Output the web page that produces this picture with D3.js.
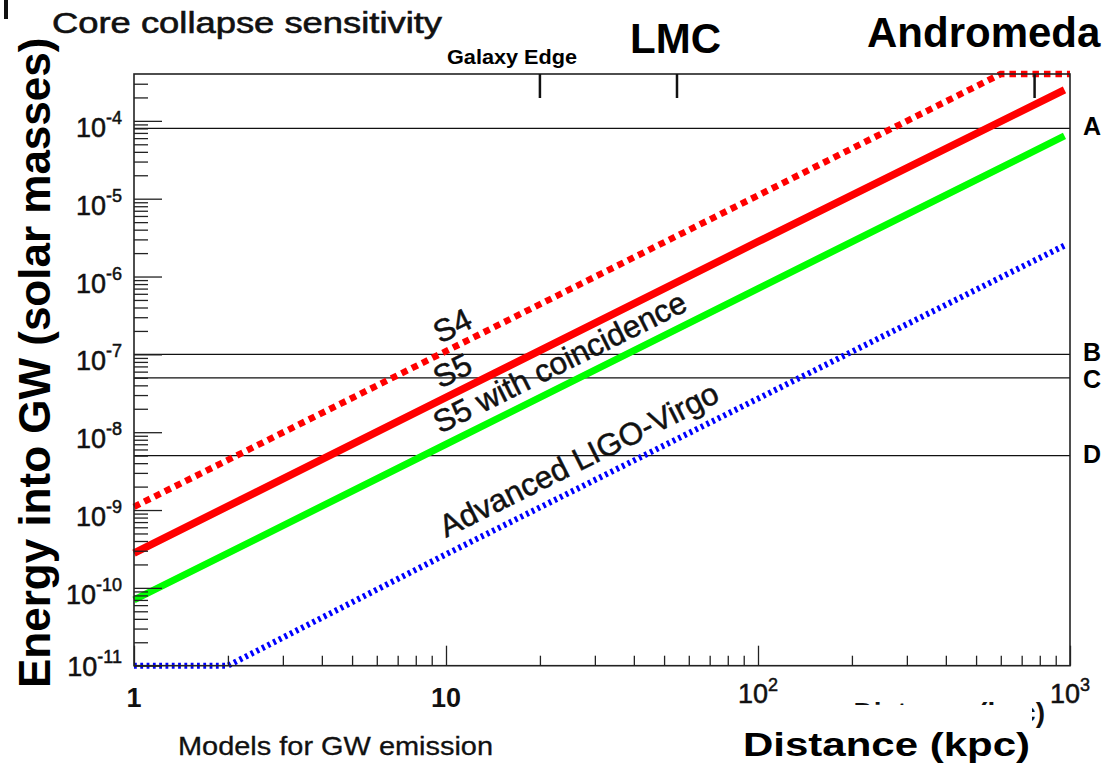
<!DOCTYPE html>
<html><head><meta charset="utf-8">
<script src="https://cdn.jsdelivr.net/npm/d3@7"></script>
<style>
body{margin:0;background:#fff;}
svg{display:block;font-family:"Liberation Sans",Arial,Helvetica,sans-serif;}
</style>
</head><body>
<svg id="c" width="1113" height="763"></svg>
<script>
// ---------------- data ----------------
const seriesNames = ["S4", "S5", "S5 with coincidence", "Advanced LIGO-Virgo"];
const s4Distance = [1, 10, 100, 600, 1000];
const s4Energy   = [1.1e-9, 1.1e-7, 1.1e-5, 4.0e-4, 4.0e-4];
const s5Distance = [1, 10, 100, 960];
const s5Energy   = [2.8e-10, 2.8e-8, 2.8e-6, 2.5e-4];
const s5CoincDistance = [1, 10, 100, 960];
const s5CoincEnergy   = [7.0e-11, 7.0e-9, 7.0e-7, 6.4e-5];
const advDistance = [1, 2, 10, 100, 960];
const advEnergy   = [1e-11, 1e-11, 2.7e-10, 2.7e-8, 2.5e-6];

const modelLabels = ["A", "B", "C", "D"];
const modelEnergy = [8e-5, 1e-7, 5e-8, 5e-9];

const markerNames = ["Galaxy Edge", "LMC", "Andromeda"];
const markerDistance = [20, 55, 770];

const xMajorTicks = [1, 10, 100, 1000];
const xTickBase = ["1", "10", "10", "10"];
const xTickExp  = ["", "", "2", "3"];
const yMajorTicks = [1e-11, 1e-10, 1e-9, 1e-8, 1e-7, 1e-6, 1e-5, 1e-4];
const yTickExp = ["-11", "-10", "-9", "-8", "-7", "-6", "-5", "-4"];

const titleText = "Core collapse sensitivity";
const yTitle = "Energy into GW (solar masses)";
const xTitle = "Distance (kpc)";
const subText = "Models for GW emission";

// ---------------- layout ----------------
const svg = d3.select("#c");
const L = 134, R = 1070, T = 74, B = 665.7;
const x = d3.scaleLog().domain([1, 1000]).range([L, R]);
const y = d3.scaleLog().domain([1e-11, 4e-4]).range([B, T]);

// stray mark top-left
svg.append("rect").attr("x", 4).attr("y", 0).attr("width", 4).attr("height", 19).attr("fill", "#111");

// reference energy lines
svg.append("g").selectAll("line").data(modelEnergy).join("line")
  .attr("x1", L).attr("x2", R)
  .attr("y1", d => y(d)).attr("y2", d => y(d))
  .attr("stroke", "#111").attr("stroke-width", 1.3);

// series
const series = [
  {d: s4Distance, e: s4Energy, color: "#ff0000", w: 6.5, dash: "6.5,5"},
  {d: s5Distance, e: s5Energy, color: "#ff0000", w: 7.5, dash: null},
  {d: s5CoincDistance, e: s5CoincEnergy, color: "#00ff00", w: 7, dash: null},
  {d: advDistance, e: advEnergy, color: "#0000ff", w: 6, dash: "2.8,3.5"}
];
const line = d3.line().x(p => x(p[0])).y(p => y(p[1]));
series.forEach(s => {
  svg.append("path")
    .attr("d", line(s.d.map((v, i) => [v, s.e[i]])))
    .attr("fill", "none").attr("stroke", s.color)
    .attr("stroke-width", s.w)
    .attr("stroke-dasharray", s.dash)
    .attr("stroke-linecap", "butt");
});

// frame
svg.append("rect").attr("x", L).attr("y", T).attr("width", R - L).attr("height", B - T)
  .attr("fill", "none").attr("stroke", "#222").attr("stroke-width", 1.6);

// y axis ticks
const yMinor = [];
for (let k = -11; k <= -4; k++) for (let m = 2; m <= 9; m++) {
  const v = m * Math.pow(10, k);
  if (v < 3.9e-4) yMinor.push(v);
}
function styleAxis(g) {
  g.select(".domain").remove();
  g.selectAll(".tick line").attr("stroke", "#222").attr("stroke-width", 1.3);
}
svg.append("g").attr("transform", `translate(${L},0)`)
  .call(d3.axisLeft(y).tickValues(yMinor).tickSize(-14).tickFormat("")).call(styleAxis);
svg.append("g").attr("transform", `translate(${L},0)`)
  .call(d3.axisLeft(y).tickValues(yMajorTicks).tickSize(-28).tickFormat("")).call(styleAxis);

// x axis ticks
const xMinor = [];
for (let k = 0; k < 3; k++) for (let m = 2; m <= 9; m++) xMinor.push(m * Math.pow(10, k));
svg.append("g").attr("transform", `translate(0,${B})`)
  .call(d3.axisBottom(x).tickValues(xMinor).tickSize(-10).tickFormat("")).call(styleAxis);
svg.append("g").attr("transform", `translate(0,${B})`)
  .call(d3.axisBottom(x).tickValues(xMajorTicks).tickSize(-20).tickFormat("")).call(styleAxis);

// y tick labels
yMajorTicks.forEach((v, i) => {
  const t = svg.append("text").attr("x", 122)
    .attr("y", Math.min(y(v) + 16, B + 10))
    .attr("text-anchor", "end").attr("fill", "#111")
    .attr("stroke", "#111").attr("stroke-width", 0.5);
  t.append("tspan").attr("font-size", 27).text("10");
  t.append("tspan").attr("font-size", 18).attr("dy", -13).text(yTickExp[i]);
});

// x tick labels
xMajorTicks.forEach((v, i) => {
  const t = svg.append("text").attr("x", x(v)).attr("text-anchor", "middle").attr("fill", "#111");
  if (xTickExp[i] === "") {
    t.attr("y", 707).attr("font-weight", "bold").attr("font-size", 27).text(xTickBase[i]);
  } else {
    t.attr("y", 703).attr("stroke", "#111").attr("stroke-width", 0.5);
    t.append("tspan").attr("font-size", 27).text(xTickBase[i]);
    t.append("tspan").attr("font-size", 18).attr("dy", -12).text(xTickExp[i]);
  }
});

// top markers
svg.append("g").selectAll("line").data(markerDistance).join("line")
  .attr("x1", d => x(d)).attr("x2", d => x(d)).attr("y1", T).attr("y2", T + 24)
  .attr("stroke", "#111").attr("stroke-width", 2.5);
const markerLayout = [
  {x: 447, y: 64, size: 20, len: 130},
  {x: 630, y: 53, size: 42, len: null},
  {x: 867, y: 47, size: 42, len: null}
];
markerNames.forEach((n, i) => {
  const m = markerLayout[i];
  const t = svg.append("text").attr("x", m.x).attr("y", m.y).attr("font-weight", "bold")
    .attr("font-size", m.size).attr("fill", "#000").text(n);
  if (m.len) t.attr("textLength", m.len).attr("lengthAdjust", "spacingAndGlyphs");
});

// model labels A-D on the right
let prevY = -1e9;
modelEnergy.forEach((v, i) => {
  let by = y(v) + 7;
  if (by - prevY < 27) by = prevY + 27;
  prevY = by;
  svg.append("text").attr("x", 1083).attr("y", by).attr("font-weight", "bold")
    .attr("font-size", 25).attr("fill", "#000").text(modelLabels[i]);
});

// series labels along lines
const ang = -Math.atan((2 * (y(1e-10) - y(1e-9))) / (x(10) - x(1))) * 180 / Math.PI;
const labelPos = [[440, 344], [440, 389], [440, 434], [446, 538]];
seriesNames.forEach((n, i) => {
  svg.append("text").attr("transform", `translate(${labelPos[i][0]},${labelPos[i][1]}) rotate(${ang})`)
    .attr("font-size", 31.5).attr("fill", "#111")
    .attr("stroke", "#111").attr("stroke-width", 0.5).text(n);
});

// title
svg.append("text").attr("x", 52).attr("y", 33).attr("font-size", 29).attr("fill", "#111")
  .attr("stroke", "#111").attr("stroke-width", 0.6)
  .attr("textLength", 390).attr("lengthAdjust", "spacingAndGlyphs").text(titleText);

// y title
svg.append("text").attr("transform", "translate(50,688) rotate(-90)")
  .attr("font-size", 44).attr("font-weight", "bold").attr("fill", "#000").text(yTitle);

// hidden original axis title behind the slide box
svg.append("text").attr("x", 1045).attr("y", 722).attr("text-anchor", "end")
  .attr("font-size", 28).attr("font-weight", "bold").attr("fill", "#111").text(xTitle);
svg.append("rect").attr("x", 736).attr("y", 705).attr("width", 296).attr("height", 58).attr("fill", "#fff");

// x title
svg.append("text").attr("x", 743).attr("y", 756).attr("font-size", 33).attr("font-weight", "bold")
  .attr("fill", "#000").attr("textLength", 287).attr("lengthAdjust", "spacingAndGlyphs").text(xTitle);

// sub text
svg.append("text").attr("x", 178).attr("y", 755).attr("font-size", 25).attr("fill", "#111")
  .attr("stroke", "#111").attr("stroke-width", 0.3)
  .attr("textLength", 315).attr("lengthAdjust", "spacingAndGlyphs").text(subText);
</script>
</body></html>
